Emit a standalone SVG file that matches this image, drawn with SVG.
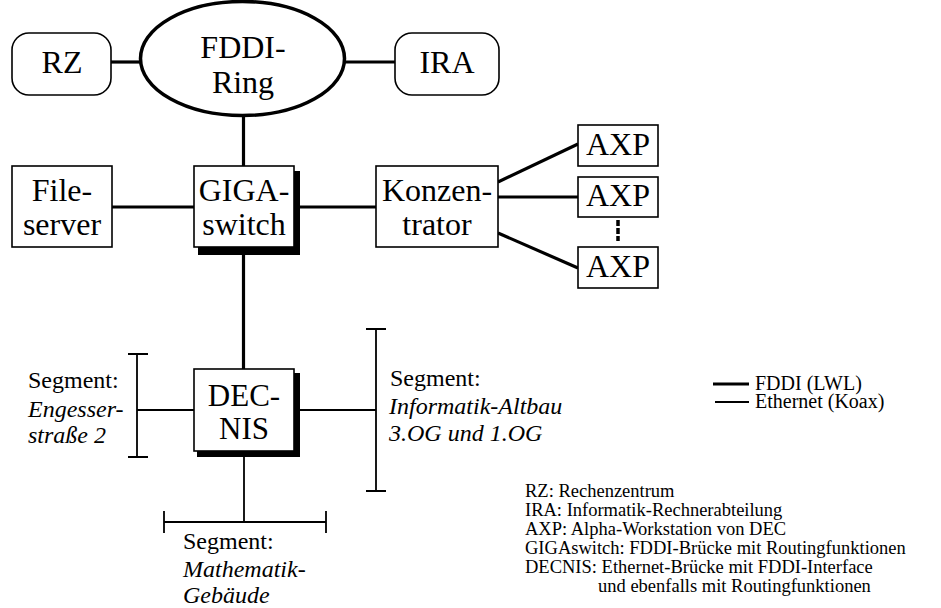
<svg xmlns="http://www.w3.org/2000/svg" width="941" height="608" viewBox="0 0 941 608">
<style>
text{font-family:"Liberation Serif","Times New Roman",serif;fill:#000}
.n{font-size:32px;text-anchor:middle}
.d{font-size:31px}
.s{font-size:24px}
.i{font-style:italic}
.lg{font-size:20px}
.nt{font-size:18.5px}
.box{fill:#fff;stroke:#000;stroke-width:1.6}
.thick{stroke:#000;stroke-width:3.2;fill:none}
.thin{stroke:#000;stroke-width:1.8;fill:none}
</style>
<rect width="941" height="608" fill="#fff"/>
<g id="connectors">
<line class="thick" x1="111" y1="62" x2="141" y2="62"/>
<line class="thick" x1="344" y1="62" x2="395" y2="62"/>
<line class="thick" x1="243.5" y1="115" x2="243.5" y2="166"/>
<line class="thick" x1="112" y1="207" x2="194" y2="207"/>
<line class="thick" x1="300" y1="207" x2="376" y2="207"/>
<line class="thick" x1="243.5" y1="255" x2="243.5" y2="369"/>
<line class="thick" x1="498" y1="182" x2="578" y2="144"/>
<line class="thick" x1="498" y1="197" x2="578" y2="197"/>
<line class="thick" x1="498" y1="233" x2="578" y2="268"/>
<line x1="618" y1="220" x2="618" y2="241" stroke="#000" stroke-width="3.5" stroke-dasharray="6,2"/>
<line class="thin" x1="137" y1="410" x2="194" y2="410"/>
<line class="thin" x1="300" y1="410" x2="376" y2="410"/>
<line class="thin" x1="244" y1="457" x2="244" y2="522"/>
</g>
<g id="rz"><rect class="box" x="12" y="33" width="99" height="62" rx="17"/><text class="n" x="62" y="73">RZ</text></g>
<g id="fddi-ring"><ellipse cx="242.5" cy="58.5" rx="102" ry="57" fill="#fff" stroke="#000" stroke-width="3.5"/><text class="n" x="243" y="58">FDDI-</text><text class="n" x="243" y="93">Ring</text></g>
<g id="ira"><rect class="box" x="395" y="33" width="104" height="62" rx="17"/><text class="n" x="447" y="73">IRA</text></g>
<g id="fileserver"><rect class="box" x="12" y="166" width="100" height="81"/><text class="n" x="62" y="201">File-</text><text class="n" x="62" y="235">server</text></g>
<g id="gigaswitch"><rect x="198" y="171" width="102" height="84" fill="#000"/><rect class="box" x="194" y="166" width="100" height="81"/><text class="n" x="244" y="201">GIGA-</text><text class="n" x="244" y="235">switch</text></g>
<g id="konzentrator"><rect class="box" x="376" y="166" width="122" height="81"/><text class="n" x="437" y="201">Konzen-</text><text class="n" x="437" y="235">trator</text></g>
<g id="axp1"><rect class="box" x="578" y="125" width="80" height="41"/><text class="n" x="618" y="155">AXP</text></g>
<g id="axp2"><rect class="box" x="578" y="177" width="80" height="40"/><text class="n" x="618" y="206">AXP</text></g>
<g id="axp3"><rect class="box" x="578" y="247" width="80" height="41"/><text class="n" x="618" y="277">AXP</text></g>
<g id="decnis"><rect x="197" y="373" width="103" height="84" fill="#000"/><rect class="box" x="194" y="369" width="100" height="82"/><text class="n d" x="244" y="406">DEC-</text><text class="n d" x="244" y="439">NIS</text></g>
<g id="segment-left">
<path class="thin" d="M137 354V457M128 354H148M128 457H148"/>
<text class="s" x="28" y="388">Segment:</text>
<text class="s i" x="28" y="417">Engesser-</text>
<text class="s i" x="28" y="443">straße 2</text>
</g>
<g id="segment-right">
<path class="thin" d="M376 329V491M366 329H386M366 491H386"/>
<text class="s" x="390" y="386">Segment:</text>
<text class="s i" x="389" y="414">Informatik-Altbau</text>
<text class="s i" x="389" y="441">3.OG und 1.OG</text>
</g>
<g id="segment-bottom">
<path class="thin" d="M164 522H326M164 511V533M326 511V533"/>
<text class="s" x="183" y="549">Segment:</text>
<text class="s i" x="183" y="577">Mathematik-</text>
<text class="s i" x="183" y="603">Gebäude</text>
</g>
<g id="legend">
<line x1="713" y1="384" x2="749" y2="384" stroke="#000" stroke-width="3.2"/>
<line x1="715" y1="402" x2="749" y2="402" stroke="#000" stroke-width="1.8"/>
<text class="lg" x="755" y="390">FDDI (LWL)</text>
<text class="lg" x="755" y="408">Ethernet (Koax)</text>
</g>
<g id="notes">
<text class="nt" x="525" y="497">RZ: Rechenzentrum</text>
<text class="nt" x="525" y="516">IRA: Informatik-Rechnerabteilung</text>
<text class="nt" x="525" y="535">AXP: Alpha-Workstation von DEC</text>
<text class="nt" x="525" y="554">GIGAswitch: FDDI-Brücke mit Routingfunktionen</text>
<text class="nt" x="525" y="573">DECNIS: Ethernet-Brücke mit FDDI-Interface</text>
<text class="nt" x="598" y="592">und ebenfalls mit Routingfunktionen</text>
</g>
</svg>
